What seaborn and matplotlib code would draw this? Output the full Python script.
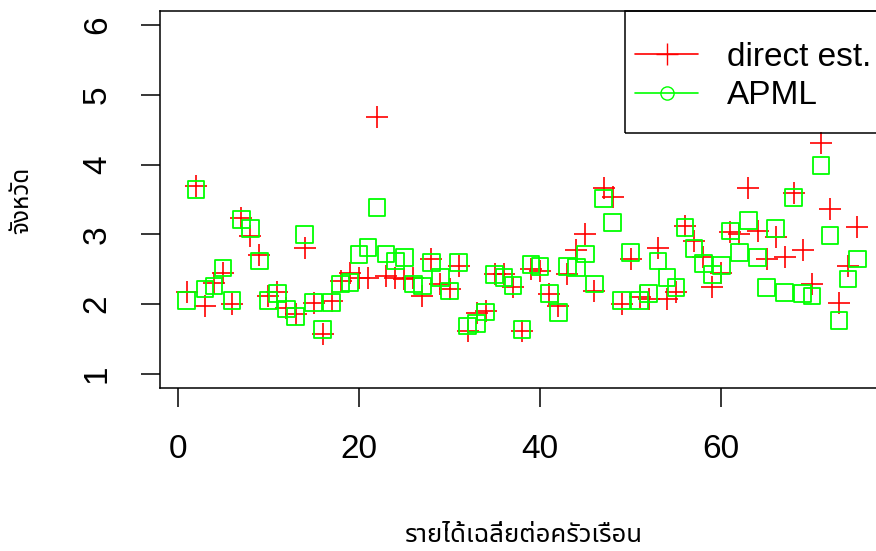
import numpy as np
import pandas as pd
import seaborn as sns
import matplotlib.pyplot as plt
from matplotlib.lines import Line2D
from matplotlib.patches import Rectangle

sns.set_theme(style="white")
plt.rcParams['font.family'] = ['Liberation Sans', 'DejaVu Sans']
plt.rcParams['text.color'] = 'black'
plt.rcParams['xtick.color'] = 'black'
plt.rcParams['ytick.color'] = 'black'
THAI_FONTS = ['Noto Sans Thai', 'Sarabun', 'Athiti', 'Anuphan', 'DejaVu Sans']

# district index 1..75
district = list(range(1, 76))
direct_est = [2.18, 3.70, 1.98, 2.30, 2.45, 2.01, 3.24, 2.98, 2.70, 2.12,
              2.17, 1.95, 1.86, 2.81, 2.02, 1.58, 2.05, 2.33, 2.45, 2.38,
              2.38, 4.68, 2.40, 2.38, 2.36, 2.38, 2.12, 2.65, 2.29, 2.22,
              2.55, 1.62, 1.88, 1.90, 2.43, 2.43, 2.24, 1.62, 2.50, 2.48,
              2.15, 1.98, 2.43, 2.77, 3.01, 2.19, 3.67, 3.53, 2.00, 2.65,
              2.10, 2.08, 2.81, 2.08, 2.17, 3.12, 2.91, 2.67, 2.24, 2.45,
              3.03, 3.00, 3.66, 3.05, 2.65, 2.96, 2.67, 3.60, 2.77, 2.29,
              4.31, 3.37, 2.02, 2.55, 3.10]
apml = [2.05, 3.64, 2.22, 2.26, 2.52, 2.05, 3.21, 3.08, 2.62, 2.05,
        2.15, 1.93, 1.82, 3.00, 2.02, 1.64, 2.02, 2.29, 2.31, 2.71,
        2.81, 3.39, 2.72, 2.62, 2.67, 2.29, 2.26, 2.60, 2.38, 2.19,
        2.60, 1.69, 1.72, 1.89, 2.43, 2.38, 2.27, 1.64, 2.57, 2.54,
        2.15, 1.88, 2.54, 2.53, 2.72, 2.29, 3.51, 3.17, 2.05, 2.74,
        2.05, 2.15, 2.62, 2.38, 2.24, 3.10, 2.80, 2.58, 2.43, 2.55,
        3.05, 2.74, 3.20, 2.67, 2.24, 3.08, 2.17, 3.53, 2.15, 2.12,
        3.99, 2.98, 1.77, 2.36, 2.65]

df = pd.DataFrame({"district": district, "direct": direct_est, "apml": apml})

fig = plt.figure(figsize=(8.76, 5.51), dpi=100)
W, H = 876, 551
ax = fig.add_axes([160 / W, (H - 388) / H, (884 - 160) / W, (388 - 11) / H])

sns.scatterplot(data=df, x="district", y="direct", ax=ax, marker="+", s=16.5 ** 2,
                color="#ff0000", linewidth=1.2, zorder=3)
sns.scatterplot(data=df, x="district", y="apml", ax=ax, marker="s", s=12 ** 2,
                facecolor="none", edgecolor="#00ff00", linewidth=1.3, zorder=4)

ax.set_xlim(-1.96, 77.96)
ax.set_ylim(0.8, 6.2)
ax.set_xticks([0, 20, 40, 60])
ax.set_yticks([1, 2, 3, 4, 5, 6])
ax.tick_params(axis="both", length=14, width=1.1, color="black", labelsize=24,
               labelcolor="black", direction="out", left=True, bottom=True)
ax.tick_params(axis="x", pad=19)
ax.tick_params(axis="y", pad=20)
plt.setp(ax.get_yticklabels(), rotation=90, va="center")
for sp in ax.spines.values():
      sp.set_color("black")
      sp.set_linewidth(1.1)
ax.set_xlabel("")
ax.set_ylabel("")

fig.text(524 / W, 1 - 535 / H, "รายได้เฉลี่ยต่อครัวเรือน", ha="center", va="center",
         fontsize=18.5, family=THAI_FONTS, fontweight="bold")
fig.text(22 / W, 1 - 200 / H, "จังหวัด", ha="center", va="center", rotation=90,
         fontsize=17.5, family=THAI_FONTS, fontweight="bold")

# legend box (R style, top right)
fig.patches.append(Rectangle((625 / W, 1 - 133 / H), (884 - 625) / W, (133 - 11) / H,
                             transform=fig.transFigure, fill=False, edgecolor="black",
                             linewidth=1.1, zorder=5))
handles = [Line2D([], [], color="#ff0000", marker="+", markersize=16, lw=1.2),
           Line2D([], [], color="#00ff00", marker="o", markersize=9.5, fillstyle="none", lw=1.2)]
leg = fig.legend(handles, ["direct est.", "APML"], loc="upper left",
                 bbox_to_anchor=(635 / W, 1 - 42 / H), fontsize=24, frameon=False,
                 borderaxespad=0, borderpad=0, handlelength=1.9,
                 labelspacing=0.22, handletextpad=0.85)

fig.savefig("out.png", dpi=100)
